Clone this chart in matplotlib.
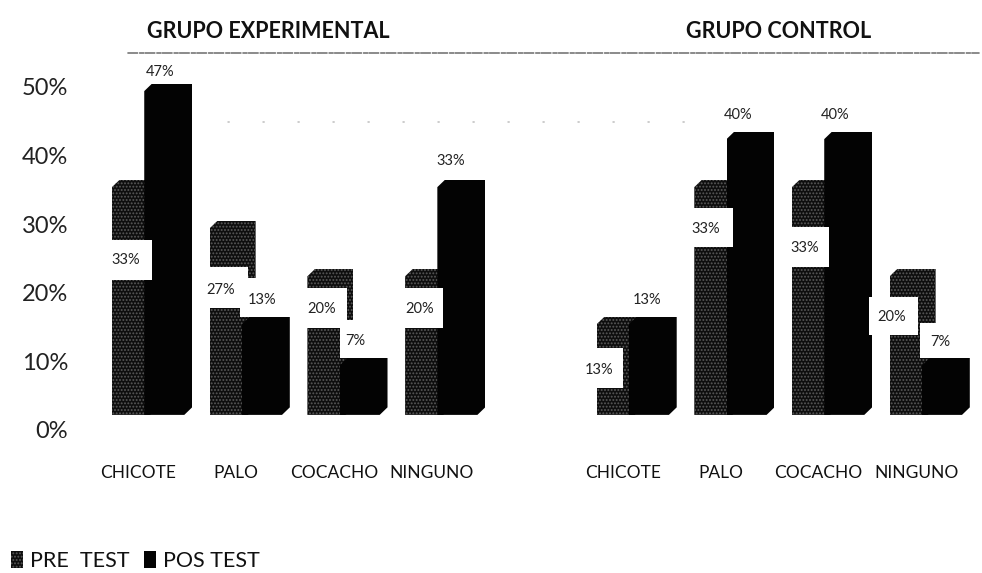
import numpy as np
import matplotlib
matplotlib.use('Agg')
import matplotlib.pyplot as plt
from matplotlib.patches import Polygon, Rectangle
from matplotlib.transforms import ScaledTranslation, IdentityTransform

plt.rcParams['font.family'] = ['Lato', 'DejaVu Sans']
plt.rcParams['hatch.linewidth'] = 0.9

# values
categories = ['CHICOTE', 'PALO', 'COCACHO', 'NINGUNO', 'CHICOTE', 'PALO', 'COCACHO', 'NINGUNO']
pre_test = [33, 27, 20, 20, 13, 33, 33, 20]
pos_test = [47, 13, 7, 33, 13, 40, 40, 7]
y_ticks = [0, 10, 20, 30, 40, 50]
group_titles = ['GRUPO EXPERIMENTAL', 'GRUPO CONTROL']

# layout only
slots = np.array([0, 1, 2, 3, 4.96, 5.96, 6.96, 7.96])
pre_label_px = [(126, 260), (221, 290), (322, 309), (420, 309), (599, 370), (706, 229), (805, 248), (892, 317)]
pos_label_px = [(160, 72), (262, 300), (355, 341), (451, 161), (647, 300), (738, 115), (835, 115), (940, 342)]
# cajas blancas detras de las etiquetas: x0, y0, x1, y1 en pixeles
white_boxes_px = [(112, 240, 152, 280), (210, 267, 248, 308), (240, 278, 290, 317),
                  (307, 288, 347, 328), (340, 320, 388, 358), (405, 288, 443, 328),
                  (597, 348, 623, 388), (694, 208, 733, 247), (790, 227, 829, 267),
                  (869, 297, 918, 335), (920, 323, 958, 358)]

fig = plt.figure(figsize=(9.82, 5.73), dpi=100)
ax = fig.add_axes([68 / 982, 1 - 440 / 573, (982 - 68) / 982, 400 / 573])
ax.set_xlim((68 - 112) / 97.7, (982 - 112) / 97.7)
ax.set_ylim(-4.96, 53.35)
for s in ax.spines.values():
    s.set_visible(False)
ax.patch.set_visible(False)


def chamfer(bar, dx=0.08, dy=1.1):
    # the old 3D bars have a cut top left and bottom right corner
    x0, y0 = bar.get_x(), bar.get_y()
    x1, y1 = x0 + bar.get_width(), y0 + bar.get_height()
    clip = Polygon([(x0, y0), (x1 - dx, y0), (x1, y0 + dy), (x1, y1), (x0 + dx, y1), (x0, y1 - dy)],
                   transform=ax.transData)
    bar.set_clip_path(clip)


base = -1.3
pre_bars = ax.bar(slots, np.array(pre_test) - base, bottom=base, width=0.47, align='edge',
                  color='#0e0e0e', edgecolor='#5a5a5a', hatch='.....', linewidth=0, zorder=2,
                  label='PRE  TEST')
pos_bars = ax.bar(slots + 0.33, np.array(pos_test) - base, bottom=base, width=0.49, align='edge',
                  color='#030303', edgecolor='#030303', linewidth=0, zorder=3, label='POS TEST')
for b in list(pre_bars) + list(pos_bars):
    chamfer(b)

# eje y con etiquetas corridas hacia abajo, como en el grafico 3D
ax.set_yticks(y_ticks)
ax.set_yticklabels([f'{v}%' for v in y_ticks], fontsize=17, color='#222222')
ax.tick_params(axis='y', length=0, pad=0)
shift = ScaledTranslation(0, -24 / 100, fig.dpi_scale_trans)
for lab in ax.get_yticklabels():
    lab.set_transform(lab.get_transform() + shift)

ax.set_xticks(slots + 0.27)
ax.set_xticklabels(categories, fontsize=12.5, color='#111111')
ax.tick_params(axis='x', length=0, pad=18)

# etiquetas de valores
for x0, y0, x1, y1 in white_boxes_px:
    ax.add_patch(Rectangle((x0, 573 - y1), x1 - x0, y1 - y0, transform=IdentityTransform(),
                           fc='white', ec='none', zorder=5))
for v, (px, py) in zip(pre_test + pos_test, pre_label_px + pos_label_px):
    ax.annotate(f'{v}%', (px, 573 - py), xycoords='figure pixels', ha='center', va='center',
                fontsize=10.5, color='#222222', zorder=6)

# lineas de fondo punteadas
ax.annotate('', (982, 573 - 53), (125, 573 - 53), xycoords='figure pixels', textcoords='figure pixels',
            arrowprops=dict(arrowstyle='-', color='#333333', lw=0.8, linestyle=(0, (9, 1.5, 4, 1))), zorder=1)
ax.annotate('', (700, 573 - 122), (225, 573 - 122), xycoords='figure pixels', textcoords='figure pixels',
            arrowprops=dict(arrowstyle='-', color='#888888', lw=0.6, linestyle=(0, (2, 40))), zorder=1)

fig.text(268 / 982, 1 - 31 / 573, group_titles[0], fontsize=15.5, fontweight='bold',
         ha='center', va='center', color='#111111')
fig.text(779 / 982, 1 - 31 / 573, group_titles[1], fontsize=15.5, fontweight='bold',
         ha='center', va='center', color='#111111')

fig.legend(handles=[pre_bars, pos_bars], loc='center left', bbox_to_anchor=(-8 / 982, 1 - 561 / 573),
           ncol=2, frameon=False, fontsize=15.5, handlelength=0.55, handleheight=0.8, handletextpad=0.3,
           columnspacing=0.7, labelcolor='#111111')

fig.savefig('out.png', dpi=100)
